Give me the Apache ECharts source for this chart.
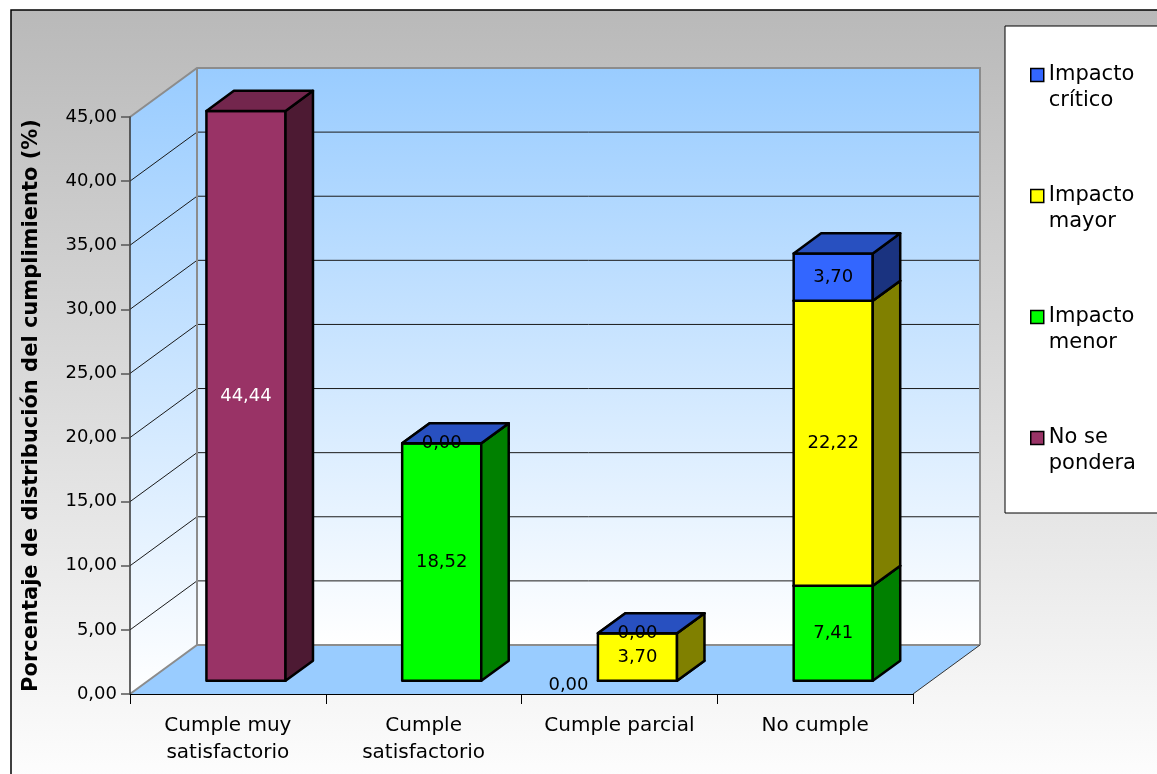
<!DOCTYPE html>
<html>
<head>
<meta charset="utf-8">
<script src="https://cdn.jsdelivr.net/npm/echarts@6/dist/echarts.min.js"></script>
<style>
html, body { margin: 0; padding: 0; background: #fff; }
#chart { width: 1157px; height: 774px; }
</style>
</head>
<body>
<div id="chart"></div>
<script>
// categories and values
const categories = ['Cumple muy\nsatisfactorio', 'Cumple\nsatisfactorio', 'Cumple parcial', 'No cumple'];
const noSePondera = [44.44, null, null, null];
const impactoMenor = [null, 18.52, 0, 7.41];
const impactoMayor = [null, null, 3.70, 22.22];
const impactoCritico = [null, 0, 0, 3.70];
const yMin = 0, yMax = 45, yStep = 5;
const legendOrder = ['Impacto crítico', 'Impacto mayor', 'Impacto menor', 'No se pondera'];

// 3d look
const DX = 67, DY = -49;        // depth of the floor in px
const FRONT = 0.27, DEPTH = 0.41; // bar position inside the depth
const BAR_W = 0.404;            // share of a category
const FONT = 'DejaVu Sans';

const fmt = v => v.toFixed(2).replace('.', ',');

const seriesDefs = [
  { name: 'No se pondera', values: noSePondera, color: '#993366', top: '#73264d', side: '#4d1a33', label: '#ffffff' },
  { name: 'Impacto menor', values: impactoMenor, color: '#00ff00', top: '#00c000', side: '#008000', label: '#000000' },
  { name: 'Impacto mayor', values: impactoMayor, color: '#ffff00', top: '#c0c000', side: '#808000', label: '#000000' },
  { name: 'Impacto crítico', values: impactoCritico, color: '#3366ff', top: '#2850c0', side: '#1a3380', label: '#000000' }
];

// stack bases
const stackTop = categories.map(() => 0);
seriesDefs.forEach(s => {
  s.data = [];
  s.values.forEach((v, i) => {
    if (v === null) return;
    s.data.push([i, stackTop[i], stackTop[i] + v, v]);
    stackTop[i] += v;
  });
});

const wallGrad = () => new echarts.graphic.LinearGradient(0, 0, 0, 1, [
  { offset: 0, color: '#99ccff' },
  { offset: 1, color: '#ffffff' }
]);

function renderWalls(params, api) {
  const cs = params.coordSys;
  const x0 = cs.x, x1 = cs.x + cs.width;
  const yAt = v => api.coord([0, v])[1];
  const y0 = yAt(yMin), yT = yAt(yMax);
  const kids = [];
  kids.push({ type: 'polygon', shape: { points: [[x0, y0], [x1, y0], [x1 + DX, y0 + DY], [x0 + DX, y0 + DY]] }, style: { fill: '#99ccff' } });
  kids.push({ type: 'polygon', shape: { points: [[x0, y0], [x0, yT], [x0 + DX, yT + DY], [x0 + DX, y0 + DY]] }, style: { fill: wallGrad() } });
  kids.push({ type: 'rect', shape: { x: x0 + DX, y: yT + DY, width: x1 - x0, height: y0 - yT }, style: { fill: wallGrad() } });
  for (let v = yMin + yStep; v < yMax; v += yStep) {
    const y = yAt(v);
    kids.push({ type: 'polyline', shape: { points: [[x0, y], [x0 + DX, y + DY], [x1 + DX, y + DY]] }, style: { stroke: '#1a1a1a', lineWidth: 1, fill: null } });
  }
  const gray = { stroke: '#8c8c8c', lineWidth: 2, fill: null };
  kids.push({ type: 'polyline', shape: { points: [[x0, yT], [x0 + DX, yT + DY], [x1 + DX, yT + DY], [x1 + DX, y0 + DY]] }, style: gray });
  kids.push({ type: 'polyline', shape: { points: [[x0, y0], [x0 + DX, y0 + DY], [x1 + DX, y0 + DY]] }, style: gray });
  kids.push({ type: 'line', shape: { x1: x0 + DX, y1: yT + DY, x2: x0 + DX, y2: y0 + DY }, style: gray });
  kids.push({ type: 'line', shape: { x1: x1, y1: y0, x2: x1 + DX, y2: y0 + DY }, style: { stroke: '#333', lineWidth: 1 } });
  return { type: 'group', children: kids };
}

function makeBarRenderer(def) {
  return function (params, api) {
    const cat = api.value(0), b = api.value(1), t = api.value(2), v = api.value(3);
    const pb = api.coord([cat, b]), pt = api.coord([cat, t]);
    const w = api.size([1, 0])[0] * BAR_W;
    const cx = pb[0] + DX * FRONT;
    const xl = cx - w / 2, xr = cx + w / 2;
    const yb = pb[1] + DY * FRONT, yt = pt[1] + DY * FRONT;
    const bx = DX * DEPTH, by = DY * DEPTH;
    const line = { stroke: '#000', lineWidth: 2.5, lineJoin: 'round' };
    const kids = [];
    if (v > 0) {
      kids.push({ type: 'rect', shape: { x: xl, y: yt, width: w, height: yb - yt }, style: Object.assign({ fill: def.color }, line) });
      kids.push({ type: 'polygon', shape: { points: [[xr, yb], [xr, yt], [xr + bx, yt + by], [xr + bx, yb + by]] }, style: Object.assign({ fill: def.side }, line) });
    }
    kids.push({ type: 'polygon', shape: { points: [[xl, yt], [xr, yt], [xr + bx, yt + by], [xl + bx, yt + by]] }, style: Object.assign({ fill: def.top }, line) });
    let lx = cx, ly = (yb + yt) / 2;
    if (v === 0 && b === 0) { lx = cx - 69; ly = yb + 5; }
    else if (v === 0) { ly = yt; }
    kids.push({ type: 'text', z2: 10, style: { x: lx, y: ly, text: fmt(v), fill: def.label, font: '18px "' + FONT + '"', align: 'center', verticalAlign: 'middle' } });
    return { type: 'group', children: kids };
  };
}

const chart = echarts.init(document.getElementById('chart'));
chart.setOption({
  animation: false,
  graphic: [{
    type: 'rect', z: -100, silent: true,
    shape: { x: 11, y: 10, width: 1170, height: 790 },
    style: {
      fill: new echarts.graphic.LinearGradient(0, 0, 0, 1, [
        { offset: 0, color: '#b9b9b9' },
        { offset: 1, color: '#ffffff' }
      ]),
      stroke: '#000', lineWidth: 1.5
    }
  }],
  grid: { left: 130, top: 117, width: 783, height: 577, outerBoundsMode: 'none' },
  legend: {
    orient: 'vertical', left: 1005, top: 26,
    data: legendOrder,
    backgroundColor: '#ffffff', borderColor: '#000', borderWidth: 1,
    padding: [10, 40, 36, 25],
    itemWidth: 13, itemHeight: 13, itemGap: 43,
    icon: 'rect',
    itemStyle: { borderColor: '#000', borderWidth: 1.5 },
    // leading empty line puts the first word level with the swatch
    formatter: n => '\n' + n.replace(/ (?=\S+$)/, '\n'),
    textStyle: { fontFamily: FONT, fontSize: 21, lineHeight: 26, color: '#000' }
  },
  xAxis: {
    type: 'category', data: categories, z: 5,
    axisLine: { lineStyle: { color: '#000', width: 1 } },
    axisTick: { show: true, length: 10, lineStyle: { color: '#000' } },
    axisLabel: { color: '#000', fontFamily: FONT, fontSize: 20, lineHeight: 27, margin: 18 },
    splitLine: { show: false }
  },
  yAxis: {
    type: 'value', min: yMin, max: yMax, interval: yStep, z: 5,
    name: 'Porcentaje de distribución del cumplimiento (%)',
    nameLocation: 'middle', nameGap: 88,
    nameTextStyle: { color: '#000', fontFamily: FONT, fontSize: 21, fontWeight: 'bold' },
    axisLine: { show: true, lineStyle: { color: '#333', width: 1.5 } },
    axisTick: { show: true, length: 9, lineStyle: { color: '#555', width: 1.5 } },
    axisLabel: { color: '#000', fontFamily: FONT, fontSize: 18, margin: 13, formatter: v => fmt(v) },
    splitLine: { show: false }
  },
  series: [
    { type: 'custom', name: 'walls', silent: true, z: 1, data: [[0, 0]], renderItem: renderWalls }
  ].concat(seriesDefs.map(def => ({
    type: 'custom', name: def.name, z: 2,
    itemStyle: { color: def.color },
    data: def.data,
    encode: { x: 0, y: [1, 2] },
    renderItem: makeBarRenderer(def)
  })))
});
</script>
</body>
</html>
